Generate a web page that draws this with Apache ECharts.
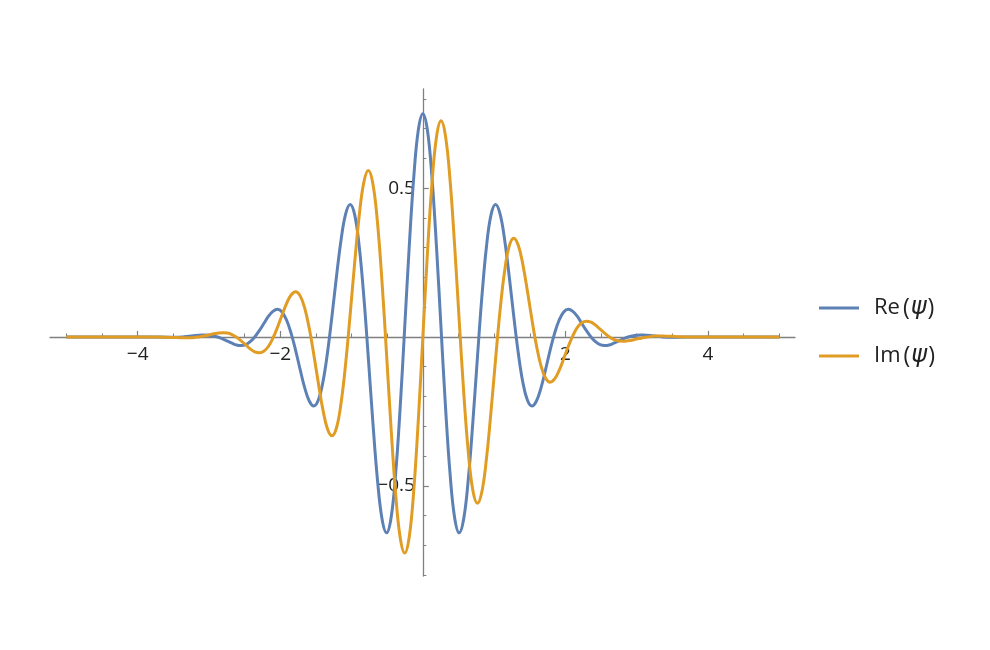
<!DOCTYPE html>
<html>
<head>
<meta charset="utf-8">
<script src="https://cdn.jsdelivr.net/npm/echarts@6/dist/echarts.min.js"></script>
<style>
html,body{margin:0;padding:0;background:#fff;}
#main{width:990px;height:650px;}
</style>
</head>
<body>
<div id="main"></div>
<script>
// Series names
var seriesNames = ['Re(\u03C8)', 'Im(\u03C8)'];

// Sample x positions
var xVals = [-5, -4.3, -3.8,
  -3.5694, -3.5057, -3.4420, -3.3782, -3.3145, -3.2507, -3.1870, -3.1233, -3.0595, -2.9958, -2.9320, -2.8683,
  -2.8046, -2.7408, -2.6771, -2.6133, -2.5496, -2.4859, -2.4221, -2.3584, -2.2946, -2.2309, -2.1672, -2.1034,
  -2.0397, -1.9759, -1.9122, -1.8485, -1.7847, -1.7210, -1.6572, -1.5935, -1.5298, -1.4660, -1.4023, -1.3385,
  -1.2748, -1.2111, -1.1473, -1.0836, -1.0198, -0.9561, -0.8924, -0.8286, -0.7649, -0.7011, -0.6374, -0.5737,
  -0.5099, -0.4462, -0.3824, -0.3187, -0.2550, -0.1912, -0.1275, -0.0637,
  0,
  0.0637, 0.1275, 0.1912, 0.2550, 0.3187, 0.3824, 0.4462, 0.5099, 0.5737, 0.6374, 0.7011, 0.7649, 0.8286,
  0.8924, 0.9561, 1.0198, 1.0836, 1.1473, 1.2111, 1.2748, 1.3385, 1.4023, 1.4660, 1.5298, 1.5935, 1.6572,
  1.7210, 1.7847, 1.8485, 1.9122, 1.9759, 2.0397, 2.1034, 2.1672, 2.2309, 2.2946, 2.3584, 2.4221, 2.4859,
  2.5496, 2.6133, 2.6771, 2.7408, 2.8046, 2.8683, 2.9320, 2.9958, 3.0595, 3.1233, 3.1870, 3.2507, 3.3145,
  3.3782, 3.4420, 3.5057, 3.5694,
  3.8, 4.3, 5];

// Re(psi) values
var reVals = [0, 0, 0,
  -0.001, -0.001, -0.001, 0, 0.002, 0.003, 0.005, 0.006, 0.007, 0.006, 0.003, -0.001,
  -0.007, -0.014, -0.021, -0.027, -0.029, -0.026, -0.016, 0, 0.021, 0.045, 0.069, 0.086,
  0.093, 0.084, 0.057, 0.013, -0.045, -0.110, -0.171, -0.215, -0.232, -0.212, -0.152, -0.054,
  0.070, 0.204, 0.326, 0.413, 0.445, 0.410, 0.304, 0.137, -0.070, -0.287, -0.478, -0.610,
  -0.658, -0.608, -0.462, -0.239, 0.030, 0.303, 0.537, 0.695,
  0.750,
  0.695, 0.537, 0.303, 0.030, -0.239, -0.462, -0.608, -0.658, -0.610, -0.478, -0.287, -0.070, 0.137,
  0.304, 0.410, 0.445, 0.413, 0.326, 0.204, 0.070, -0.054, -0.152, -0.212, -0.232, -0.215, -0.171,
  -0.110, -0.045, 0.013, 0.057, 0.084, 0.093, 0.086, 0.069, 0.045, 0.021, 0, -0.016, -0.026,
  -0.029, -0.027, -0.021, -0.014, -0.007, -0.001, 0.003, 0.006, 0.007, 0.006, 0.005, 0.003, 0.002,
  0, -0.001, -0.001, -0.001,
  0, 0, 0];

// Im(psi) values
var imVals = [0, 0, 0,
  -0.001, -0.002, -0.002, -0.003, -0.003, -0.003, -0.001, 0.001, 0.004, 0.007, 0.011, 0.013,
  0.014, 0.013, 0.008, -0.001, -0.013, -0.026, -0.040, -0.050, -0.053, -0.048, -0.032, -0.004,
  0.032, 0.073, 0.112, 0.141, 0.152, 0.138, 0.097, 0.029, -0.059, -0.155, -0.244, -0.308,
  -0.332, -0.305, -0.222, -0.091, 0.075, 0.250, 0.408, 0.519, 0.559, 0.515, 0.387, 0.188,
  -0.055, -0.305, -0.524, -0.673, -0.726, -0.672, -0.515, -0.279,
  0,
  0.279, 0.515, 0.672, 0.726, 0.673, 0.524, 0.305, 0.055, -0.188, -0.387, -0.515, -0.559, -0.519,
  -0.408, -0.250, -0.075, 0.091, 0.222, 0.305, 0.332, 0.308, 0.244, 0.155, 0.059, -0.029, -0.097,
  -0.138, -0.152, -0.141, -0.112, -0.073, -0.032, 0.004, 0.032, 0.048, 0.053, 0.050, 0.040, 0.026,
  0.013, 0.001, -0.008, -0.013, -0.014, -0.013, -0.011, -0.007, -0.004, -0.001, 0.001, 0.003, 0.003,
  0.003, 0.002, 0.002, 0.001,
  0, 0, 0];

// Tick values
var xMajorTicks = [-4, -2, 2, 4];
var xMinorTicks = [-5, -4.5, -3.5, -3, -2.5, -1.5, -1, -0.5, 0.5, 1, 1.5, 2.5, 3, 3.5, 4.5, 5];
var yMajorTicks = [-0.5, 0.5];
var yMinorTicks = [-0.8, -0.7, -0.6, -0.4, -0.3, -0.2, -0.1, 0.1, 0.2, 0.3, 0.4, 0.6, 0.7, 0.8];

var colors = ['#5e81b5', '#e19c24'];
var FONT = '"Open Sans", "DejaVu Sans", sans-serif';
var AXIS_COLOR = '#808080';

function pairs(xs, ys) {
  var out = [];
  for (var i = 0; i < xs.length; i++) out.push([xs[i], ys[i]]);
  return out;
}
function fmt(v) {
  var s = String(v);
  return v < 0 ? '\u2212' + s.slice(1) : s;
}

var W = 990, H = 650;
var G = {left: 50, right: 195, top: 89, bottom: 74};
var X_MIN = -5.23, X_MAX = 5.22, Y_MIN = -0.803, Y_MAX = 0.833;
var gridW = W - G.left - G.right, gridH = H - G.top - G.bottom;
// place axes through the origin (like Mathematica's AxesOrigin)
var xAxisOffset = -(0 - Y_MIN) / (Y_MAX - Y_MIN) * gridH;
var yAxisOffset = -(0 - X_MIN) / (X_MAX - X_MIN) * gridW;

var chart = echarts.init(document.getElementById('main'), null, {renderer: 'canvas'});

var option = {
  backgroundColor: '#ffffff',
  animation: false,
  grid: {left: G.left, right: G.right, top: G.top, bottom: G.bottom, outerBoundsMode: 'none'},
  xAxis: [{
    type: 'value', min: X_MIN, max: X_MAX, position: 'bottom', offset: xAxisOffset,
    axisLine: {show: true, onZero: false, lineStyle: {color: AXIS_COLOR, width: 1.3}},
    axisTick: {show: true, inside: true, length: 6, customValues: xMajorTicks, lineStyle: {color: AXIS_COLOR, width: 1.2}},
    axisLabel: {show: true, customValues: xMajorTicks, formatter: fmt, margin: 8, color: '#222', fontSize: 19, fontFamily: FONT},
    splitLine: {show: false}
  }, {
    type: 'value', min: X_MIN, max: X_MAX, position: 'bottom', offset: xAxisOffset,
    axisLine: {show: false, onZero: false},
    axisTick: {show: true, inside: true, length: 3.5, customValues: xMinorTicks, lineStyle: {color: AXIS_COLOR, width: 1}},
    axisLabel: {show: false},
    splitLine: {show: false}
  }],
  yAxis: [{
    type: 'value', min: Y_MIN, max: Y_MAX, position: 'left', offset: yAxisOffset,
    axisLine: {show: true, onZero: false, lineStyle: {color: AXIS_COLOR, width: 1.3}},
    axisTick: {show: true, inside: true, length: 6, customValues: yMajorTicks, lineStyle: {color: AXIS_COLOR, width: 1.2}},
    axisLabel: {show: true, customValues: yMajorTicks, formatter: fmt, margin: 8, color: '#222', fontSize: 19, fontFamily: FONT},
    splitLine: {show: false}
  }, {
    type: 'value', min: Y_MIN, max: Y_MAX, position: 'left', offset: yAxisOffset,
    axisLine: {show: false, onZero: false},
    axisTick: {show: true, inside: true, length: 3.5, customValues: yMinorTicks, lineStyle: {color: AXIS_COLOR, width: 1}},
    axisLabel: {show: false},
    splitLine: {show: false}
  }],
  legend: {
    orient: 'vertical', left: 814, top: 291, itemWidth: 40, itemHeight: 26, itemGap: 24,
    icon: 'path://M0,0 L40,0 L40,3 L0,3 Z',
    data: seriesNames,
    formatter: function (name) {
      return name.replace('(', '{p|(}').replace('\u03C8', '{i|\u03C8}').replace(')', '{q|)}');
    },
    textStyle: {
      fontSize: 22, fontFamily: FONT, color: '#222', padding: [0, 0, 0, 10],
      rich: {
        i: {fontSize: 24, fontFamily: '"DejaVu Sans", sans-serif', fontStyle: 'italic', color: '#222', padding: [0, 1, 0, 1]},
        p: {fontSize: 23, fontFamily: FONT, color: '#222', padding: [0, 0, 0, 3]},
        q: {fontSize: 23, fontFamily: FONT, color: '#222', padding: [0, 0, 0, 0]}
      }
    }
  },
  series: [{
    name: seriesNames[0], type: 'line', xAxisIndex: 0, yAxisIndex: 0,
    data: pairs(xVals, reVals), smooth: 0.4, symbol: 'none', showSymbol: false,
    lineStyle: {color: colors[0], width: 3}, itemStyle: {color: colors[0]}
  }, {
    name: seriesNames[1], type: 'line', xAxisIndex: 0, yAxisIndex: 0,
    data: pairs(xVals, imVals), smooth: 0.4, symbol: 'none', showSymbol: false,
    lineStyle: {color: colors[1], width: 3}, itemStyle: {color: colors[1]}
  }]
};
chart.setOption(option);
</script>
</body>
</html>
